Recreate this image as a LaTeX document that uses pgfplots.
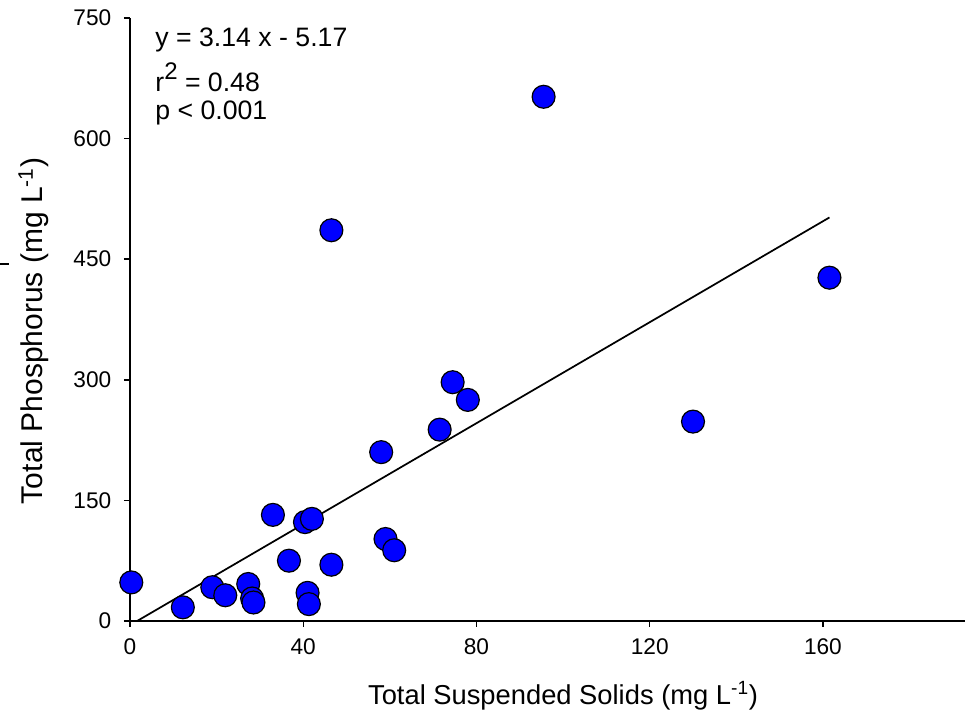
\documentclass[border=0pt]{standalone}
\usepackage{fontspec}
\setmainfont{Liberation Sans}
\usepackage{pgfplots}
\pgfplotsset{compat=1.18}
\usetikzlibrary{calc}
\definecolor{PtBlue}{RGB}{0,0,255}

\begin{document}
\begin{tikzpicture}
\begin{axis}[
  name=ax,
  scale only axis,
  width=626.25pt,height=452.25pt,
  xmin=0,xmax=192.8,ymin=0,ymax=750,
  axis lines=left,axis line style={-,line width=1.3pt},
  xtick={0,40,80,120,160},
  ytick={0,150,300,450,600,750},
  tick align=outside,major tick length=4.5pt,
  tick style={black,line width=1.1pt},
  /pgf/number format/assume math mode=true,
  tick label style={font=\fontsize{17pt}{19pt}\selectfont},
  xticklabel style={yshift=-5pt},
  yticklabel style={xshift=-6pt},
  clip=false,
  xlabel={Total Suspended Solids (mg L\textsuperscript{-1})},
  ylabel={Total Phosphorus (mg L\textsuperscript{-1})},
  xlabel style={font=\fontsize{20.5pt}{23pt}\selectfont,
    at={(axis description cs:0.5186,-0.139)},anchor=base},
  ylabel style={font=\fontsize{22.5pt}{25pt}\selectfont,
    at={(axis description cs:-0.1042,0.481)},anchor=base,rotate=0},
]
\addplot[black,line width=1.3pt] coordinates {(1.65,0) (161.5,501.9)};
\addplot[only marks,mark=*,mark size=8.6pt,
  mark options={fill=PtBlue,draw=black,line width=0.9pt}] coordinates {
  (0.3,48) (12.2,17) (19,42) (22,32) (27.3,46) (28.2,28) (28.5,23)
  (33,132) (36.7,75) (40.4,123) (42,127) (41,35) (41.3,21)
  (46.5,70) (46.5,486) (58,210) (59,102) (61,88) (71.5,238)
  (74.5,297) (78,275) (95.5,652) (130,248) (161.5,427)
};
\node[anchor=base west,inner sep=0pt,font=\fontsize{20pt}{23pt}\selectfont] at (axis cs:5.8,714.5) {y = 3.14 x - 5.17};
\node[anchor=base west,inner sep=0pt,font=\fontsize{20pt}{23pt}\selectfont] at (axis cs:5.8,659) {r\raisebox{9pt}{\fontsize{18pt}{20pt}\selectfont 2} = 0.48};
\node[anchor=base west,inner sep=0pt,font=\fontsize{20pt}{23pt}\selectfont] at (axis cs:5.8,624) {p < 0.001};
\draw[black,line width=0.8pt] (axis description cs:-0.1557,0.592) -- (axis description cs:-0.145,0.592);
\end{axis}
\pgfresetboundingbox
\useasboundingbox ($(ax.south west)+(-97.5pt,-77.25pt)$) rectangle ($(ax.north east)+(0pt,13.5pt)$);
\end{tikzpicture}
\end{document}
